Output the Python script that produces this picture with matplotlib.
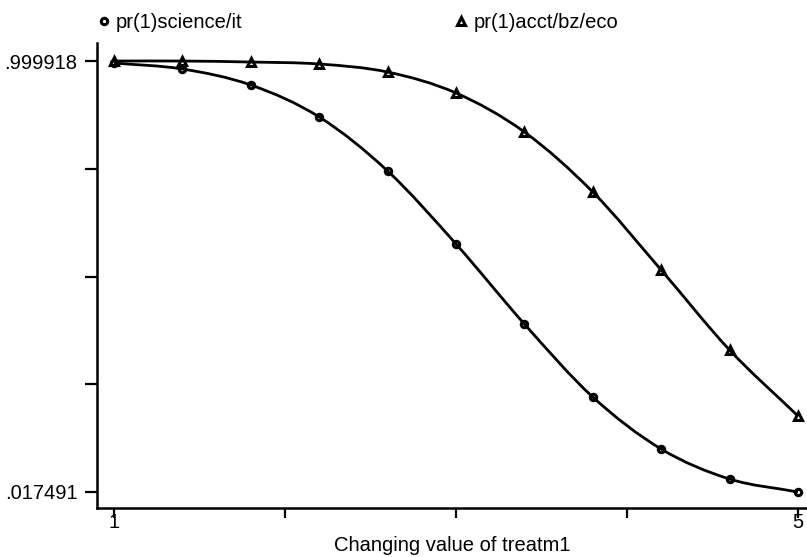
import numpy as np
import matplotlib
matplotlib.use("Agg")
import matplotlib.pyplot as plt
from matplotlib.path import Path
from matplotlib.patches import PathPatch

plt.rcParams['font.family'] = ['Liberation Sans', 'DejaVu Sans']

# data
treatm1 = [1.0, 1.4, 1.8, 2.2, 2.6, 3.0, 3.4, 3.8, 4.2, 4.6, 5.0]
pr_science = [0.9954, 0.9817, 0.9452, 0.8723, 0.7492, 0.5828, 0.4004, 0.2340, 0.1155, 0.0471, 0.0175]
pr_acct = [0.9999, 0.9999, 0.9976, 0.9931, 0.9748, 0.9270, 0.8381, 0.7013, 0.5235, 0.3412, 0.1908]
y_lo, y_hi = 0.017491, 0.999918
y_labels = ['.017491', '', '', '', '.999918']
x_ticks = [1, 2, 3, 4, 5]
x_labels = ['1', '', '', '', '5']

FS = 14.5


def smooth_path(x, y):
    # cubic bezier through the points (Catmull-Rom tangents)
    x = np.asarray(x, float)
    y = np.asarray(y, float)
    n = len(x)
    dydx = np.gradient(y, x)
    verts = [(x[0], y[0])]
    codes = [Path.MOVETO]
    for i in range(n - 1):
        h = x[i + 1] - x[i]
        c1 = (x[i] + h / 3, y[i] + dydx[i] * h / 3)
        c2 = (x[i + 1] - h / 3, y[i + 1] - dydx[i + 1] * h / 3)
        verts += [c1, c2, (x[i + 1], y[i + 1])]
        codes += [Path.CURVE4] * 3
    return Path(verts, codes)


fig = plt.figure(figsize=(8.07, 5.57), dpi=100)
ax = fig.add_axes([97 / 807, 49 / 557, 710 / 807, 465 / 557])

for ys, mk, ms, lab in [(pr_science, 'o', 4.6, 'pr(1)science/it'),
                        (pr_acct, '^', 6.0, 'pr(1)acct/bz/eco')]:
    ax.plot(treatm1, ys, ls='none', marker=mk, ms=ms, mfc='white',
            mec='black', mew=2.2, zorder=2, label=lab)
    ax.add_patch(PathPatch(smooth_path(treatm1, ys), fill=False, lw=2.0,
                           ec='black', zorder=3))

ax.set_xlim(0.90, 5.053)
ax.set_ylim(-0.019, 1.041)

ax.set_yticks(np.linspace(y_lo, y_hi, 5))
ax.set_yticklabels(y_labels)
ax.set_xticks(x_ticks)
ax.set_xticklabels(x_labels)
ax.tick_params(axis='y', length=8.6, width=1.6, pad=5.5, labelsize=FS)
ax.tick_params(axis='x', length=7.2, width=1.6, pad=-3.5, labelsize=FS)

for s in ['top', 'right']:
    ax.spines[s].set_visible(False)
for s in ['left', 'bottom']:
    ax.spines[s].set_linewidth(1.8)

ax.set_xlabel('Changing value of treatm1', fontsize=FS, labelpad=3)

fig.legend(loc='center left', bbox_to_anchor=(99 / 807, 1 - 23 / 557), ncol=2,
           frameon=False, fontsize=FS, handlelength=0.5, handletextpad=0.35,
           columnspacing=10.6, borderaxespad=0, borderpad=0)

fig.savefig('out.png', dpi=100)
